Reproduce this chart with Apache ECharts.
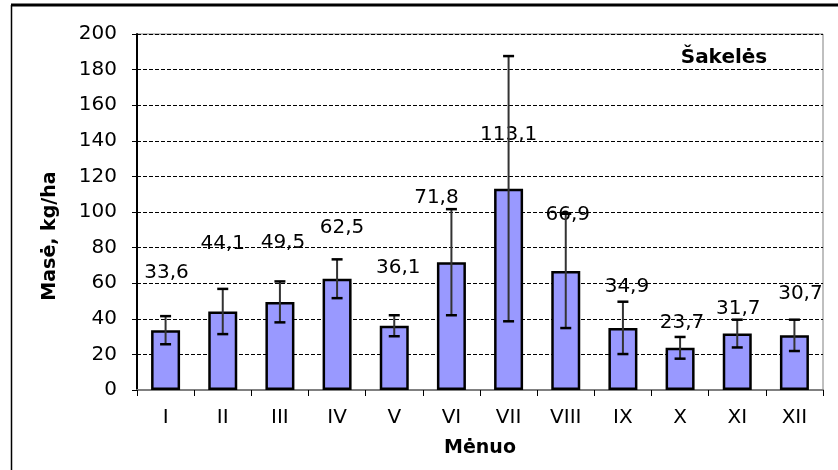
<!DOCTYPE html>
<html>
<head>
<meta charset="utf-8">
<script src="https://cdn.jsdelivr.net/npm/echarts@6/dist/echarts.min.js"></script>
<style>
  html, body { margin: 0; padding: 0; background: #fff; }
  #chart { width: 838px; height: 470px; }
</style>
</head>
<body>
<div id="chart"></div>
<script>
// mėnesiai ir vidutinė masė su paklaida
var months = ['I', 'II', 'III', 'IV', 'V', 'VI', 'VII', 'VIII', 'IX', 'X', 'XI', 'XII'];
var mass = [33.6, 44.1, 49.5, 62.5, 36.1, 71.8, 113.1, 66.9, 34.9, 23.7, 31.7, 30.7];
var spread = [7.9, 12.7, 11.5, 10.9, 5.9, 29.8, 74.5, 32.1, 14.7, 6.1, 7.8, 8.8];
var yTicks = { min: 0, max: 200, step: 20 };

// etikečių perkėlimas (kaip originale, rankiniu būdu)
var labelLift = [57, 68, 59, 51, 58, 64, 54, 56, 41, 25, 25, 42];
var labelShift = [1, 0, 3, 5, 4, -15, 0, 2, 4, 2, 1, 6];

var FONT = 'DejaVu Sans';

var chart = echarts.init(document.getElementById('chart'));

chart.setOption({
    animation: false,
    backgroundColor: '#fff',
    grid: {
        left: 137, right: 15, top: 34, bottom: 80,
        show: true, borderColor: '#808080', borderWidth: 1
    },
    graphic: [
        { type: 'line', shape: { x1: 11, y1: 5, x2: 838, y2: 5 }, style: { stroke: '#000', lineWidth: 3 } },
        { type: 'line', shape: { x1: 11.5, y1: 5, x2: 11.5, y2: 470 }, style: { stroke: '#000', lineWidth: 1.5 } },
        {
            type: 'text', x: 50, y: 236, rotation: Math.PI / 2,
            style: {
                text: 'Masė, kg/ha', font: 'bold 19px "DejaVu Sans"', fill: '#000',
                textAlign: 'center', textVerticalAlign: 'middle'
            }
        },
        {
            type: 'text', x: 724, y: 58,
            style: {
                text: 'Šakelės', font: 'bold 20px "DejaVu Sans"', fill: '#000',
                textAlign: 'center', textVerticalAlign: 'middle'
            }
        }
    ],
    xAxis: {
        type: 'category',
        data: months,
        name: 'Mėnuo',
        nameLocation: 'middle',
        nameGap: 49,
        nameTextStyle: { fontFamily: FONT, fontWeight: 'bold', fontSize: 19, color: '#000' },
        axisLine: { lineStyle: { color: '#808080', width: 2 } },
        axisTick: { show: true, length: 6, lineStyle: { color: '#000', width: 1 } },
        axisLabel: { fontFamily: FONT, fontSize: 20, color: '#000', margin: 18 },
        splitLine: { show: false }
    },
    yAxis: {
        type: 'value',
        min: yTicks.min, max: yTicks.max, interval: yTicks.step,
        axisLine: { show: true, lineStyle: { color: '#000', width: 2 } },
        axisTick: { show: true, length: 5, lineStyle: { color: '#000', width: 1 } },
        axisLabel: { fontFamily: FONT, fontSize: 20, color: '#000', margin: 20 },
        splitLine: { show: true, lineStyle: { color: '#000', width: 1, type: [4, 2] } }
    },
    series: [
        {
            type: 'bar',
            barWidth: 29,
            itemStyle: { color: '#9999FF', borderColor: '#000', borderWidth: 2.5 },
            label: {
                show: true, position: 'top', distance: 0,
                fontFamily: FONT, fontSize: 20, color: '#000',
                formatter: function (p) { return String(p.value).replace('.', ','); }
            },
            data: mass.map(function (v, i) {
                return { value: v, label: { offset: [labelShift[i], -(labelLift[i] - 10)] } };
            }),
            z: 2
        },
        {
            type: 'custom',
            z: 3,
            data: mass.map(function (v, i) { return [i, v - spread[i], v + spread[i]]; }),
            renderItem: function (params, api) {
                var i = api.value(0);
                var lo = api.coord([i, api.value(1)]);
                var hi = api.coord([i, api.value(2)]);
                var cap = 5.5;
                return {
                    type: 'group',
                    children: [
                        { type: 'line', shape: { x1: lo[0], y1: lo[1], x2: hi[0], y2: hi[1] }, style: { stroke: '#333', lineWidth: 2 } },
                        { type: 'line', shape: { x1: lo[0] - cap, y1: lo[1], x2: lo[0] + cap, y2: lo[1] }, style: { stroke: '#000', lineWidth: 2.5 } },
                        { type: 'line', shape: { x1: hi[0] - cap, y1: hi[1], x2: hi[0] + cap, y2: hi[1] }, style: { stroke: '#000', lineWidth: 2.5 } }
                    ]
                };
            }
        }
    ]
});
</script>
</body>
</html>
